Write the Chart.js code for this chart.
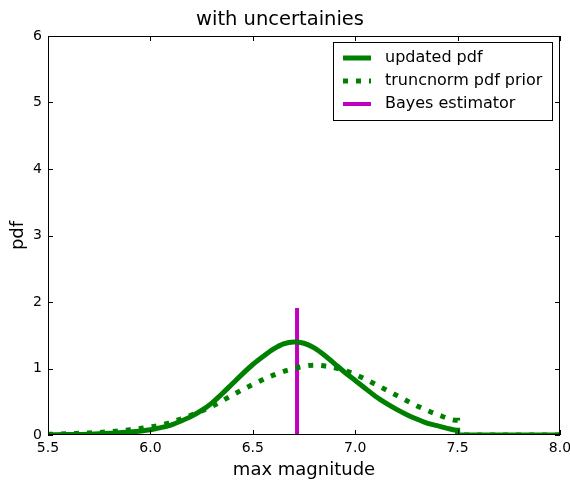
<!DOCTYPE html>
<html>
<head>
<meta charset="utf-8">
<script src="https://cdn.jsdelivr.net/npm/chart.js@4/dist/chart.umd.min.js"></script>
<style>
  html, body { margin: 0; padding: 0; background: #fff; }
  #wrap { width: 570px; height: 481px; }
</style>
</head>
<body>
<div id="wrap"><canvas id="chart"></canvas></div>
<script>
// posterior (updated) pdf of the max magnitude
const updatedX = [5.5, 5.6, 5.7, 5.8, 5.9, 6.0, 6.05, 6.1, 6.15, 6.2, 6.25, 6.3, 6.35, 6.4, 6.45, 6.5, 6.55, 6.6, 6.65, 6.7,
                  6.75, 6.8, 6.85, 6.9, 6.95, 7.0, 7.05, 7.1, 7.15, 7.2, 7.25, 7.3, 7.35, 7.4, 7.45, 7.5, 7.5, 8.0];
const updatedY = [0.003, 0.006, 0.012, 0.025, 0.045, 0.08, 0.11, 0.15, 0.21, 0.28, 0.37, 0.48, 0.62, 0.77, 0.92, 1.06, 1.18, 1.29, 1.37, 1.40,
                  1.38, 1.31, 1.20, 1.07, 0.94, 0.82, 0.70, 0.58, 0.48, 0.39, 0.31, 0.24, 0.18, 0.14, 0.10, 0.07, 0, 0];

// truncated normal prior
const priorX = [5.5, 5.6, 5.7, 5.8, 5.9, 6.0, 6.1, 6.2, 6.3, 6.4, 6.5, 6.6, 6.7, 6.8, 6.9, 7.0, 7.1, 7.2, 7.3, 7.4, 7.5, 7.5, 8.0];
const priorY = [0.01, 0.02, 0.03, 0.05, 0.08, 0.12, 0.19, 0.30, 0.43, 0.60, 0.76, 0.90, 1.00, 1.05, 1.01, 0.91, 0.76, 0.60, 0.44, 0.31, 0.22, 0, 0];

// Bayes estimator drawn as a vertical segment
const bayesX = [6.716, 6.716];
const bayesY = [0, 1.91];

const xTicks = [5.5, 6.0, 6.5, 7.0, 7.5, 8.0];
const yTicks = [0, 1, 2, 3, 4, 5, 6];

const GREEN = '#008000';
const MAGENTA = '#bf00bf';
const FONT = '"DejaVu Sans", sans-serif';

function toPoints(xs, ys) {
    return xs.map((x, i) => ({x: x, y: ys[i]}));
}

// frame, inward ticks and the boxed legend in the upper right
const framePlugin = {
    id: 'frame',
    afterDraw(chart) {
        const ctx = chart.ctx;
        const a = chart.chartArea;
        const xs = chart.scales.x;
        const ys = chart.scales.y;
        ctx.save();
        ctx.strokeStyle = '#000';
        ctx.lineWidth = 1;
        ctx.strokeRect(a.left + 0.5, a.top + 0.5, a.right - a.left - 1, a.bottom - a.top - 1);
        ctx.beginPath();
        xTicks.forEach(v => {
            const px = Math.round(xs.getPixelForValue(v)) + 0.5;
            ctx.moveTo(px, a.bottom); ctx.lineTo(px, a.bottom - 5);
            ctx.moveTo(px, a.top); ctx.lineTo(px, a.top + 5);
        });
        yTicks.forEach(v => {
            const py = Math.round(ys.getPixelForValue(v)) + 0.5;
            ctx.moveTo(a.left, py); ctx.lineTo(a.left + 5, py);
            ctx.moveTo(a.right, py); ctx.lineTo(a.right - 5, py);
        });
        ctx.stroke();

        // legend
        ctx.font = '16px ' + FONT;
        const items = chart.data.datasets;
        const textW = Math.max(...items.map(d => ctx.measureText(d.label).width));
        const boxW = Math.round(10 + 28 + 14 + textW + 10);
        const boxH = 78;
        const bx = Math.round(a.right - 8 - boxW);
        const by = Math.round(a.top + 6);
        ctx.fillStyle = '#fff';
        ctx.fillRect(bx, by, boxW, boxH);
        ctx.strokeRect(bx + 0.5, by + 0.5, boxW, boxH);
        items.forEach((d, i) => {
            const cy = by + 16 + i * 23;
            ctx.beginPath();
            ctx.strokeStyle = d.borderColor;
            ctx.lineWidth = d.borderWidth;
            ctx.lineCap = 'butt';
            ctx.setLineDash(d.borderDash || []);
            ctx.moveTo(bx + 10, cy);
            ctx.lineTo(bx + 38, cy);
            ctx.stroke();
            ctx.setLineDash([]);
            ctx.fillStyle = '#000';
            ctx.textBaseline = 'middle';
            ctx.textAlign = 'left';
            ctx.fillText(d.label, bx + 52, cy);
        });
        ctx.restore();
    }
};

new Chart(document.getElementById('chart'), {
    type: 'scatter',
    data: {
        datasets: [{
            label: 'updated pdf',
            data: toPoints(updatedX, updatedY),
            showLine: true,
            borderColor: GREEN,
            borderWidth: 5,
            pointRadius: 0,
            cubicInterpolationMode: 'monotone',
            clip: 0
        }, {
            label: 'truncnorm pdf prior',
            data: toPoints(priorX, priorY),
            showLine: true,
            borderColor: GREEN,
            borderWidth: 5,
            borderDash: [5, 8],
            pointRadius: 0,
            cubicInterpolationMode: 'monotone',
            clip: 0
        }, {
            label: 'Bayes estimator',
            data: toPoints(bayesX, bayesY),
            showLine: true,
            borderColor: MAGENTA,
            borderWidth: 4,
            pointRadius: 0,
            clip: 0
        }]
    },
    options: {
        responsive: true,
        maintainAspectRatio: false,
        animation: false,
        layout: {padding: {right: 10}},
        plugins: {
            legend: {display: false},
            tooltip: {enabled: false},
            title: {
                display: true,
                text: 'with uncertainies',
                color: '#000',
                font: {family: FONT, size: 19.5, weight: 'normal'},
                padding: {top: 8, bottom: 4.6}
            }
        },
        scales: {
            x: {
                type: 'linear',
                min: 5.5,
                max: 8.0,
                grid: {display: false, drawTicks: false},
                border: {display: false},
                afterBuildTicks(scale) { scale.ticks = xTicks.map(v => ({value: v})); },
                afterFit(scale) { scale.height = 46; scale.paddingLeft = 0; scale.paddingRight = 0; },
                ticks: {
                    color: '#000',
                    font: {family: FONT, size: 14},
                    padding: 5,
                    maxRotation: 0,
                    autoSkip: false,
                    callback: v => v.toFixed(1)
                },
                title: {
                    display: true,
                    text: 'max magnitude',
                    color: '#000',
                    font: {family: FONT, size: 18},
                    padding: {top: 0, bottom: 0}
                }
            },
            y: {
                min: 0,
                max: 6,
                grid: {display: false, drawTicks: false},
                border: {display: false},
                afterBuildTicks(scale) { scale.ticks = yTicks.map(v => ({value: v})); },
                afterFit(scale) { scale.width = 48; },
                ticks: {
                    color: '#000',
                    font: {family: FONT, size: 14},
                    padding: 6
                },
                title: {
                    display: true,
                    text: 'pdf',
                    color: '#000',
                    font: {family: FONT, size: 18},
                    padding: {top: 8, bottom: 0}
                }
            }
        }
    },
    plugins: [framePlugin]
});
</script>
</body>
</html>
